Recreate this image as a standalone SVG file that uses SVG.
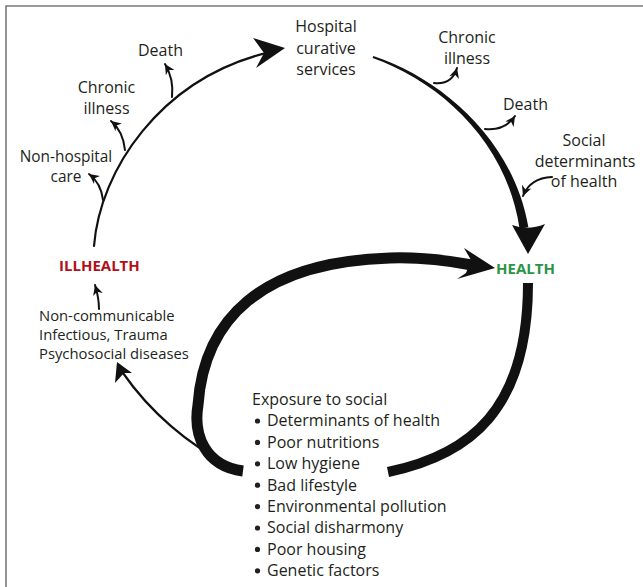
<svg xmlns="http://www.w3.org/2000/svg" width="643" height="587" viewBox="0 0 643 587">
<defs>
<marker id="barb" viewBox="-11 -6 12 12" markerWidth="12" markerHeight="12" refX="0" refY="0" orient="auto" markerUnits="userSpaceOnUse">
<path d="M0,0 L-10,-5 L-7,0 L-10,5 Z" fill="#111"/>
</marker>
</defs>
<style>
text{font-family:"Open Sans","Liberation Sans",sans-serif;font-size:16px;fill:#231f20}
.c{text-anchor:middle}
.sm{font-size:14.8px}
.thin{fill:none;stroke:#111;stroke-width:2.2;stroke-linecap:round}
.br{fill:none;stroke:#111;stroke-width:2;stroke-linecap:round;marker-end:url(#barb)}
.thick{fill:none;stroke:#111;stroke-linecap:butt}
.head{fill:#111}
.bold{font-weight:bold;font-size:15px}
</style>
<rect width="643" height="587" fill="#fff"/>
<path d="M6,587 L6,6 L643,6" fill="none" stroke="#7a7a7a" stroke-width="1.6"/>

<g id="connectors">
  <!-- ILLHEALTH to hospital -->
  <path class="thin" d="M94,246 C100,170 160,80 266,53"/>
  <path class="head" d="M285,48 L253,38 L264,53 L256,68 Z"/>
  <path class="br" d="M103,200 Q101,183 89,174"/>
  <path class="br" d="M125,150 Q123,131 111,121"/>
  <path class="br" d="M172,97 Q174,79 165,64"/>
  <!-- Hospital to HEALTH -->
  <path class="head" d="M373.3,56 C440.6,78.1 513.5,139.4 528.4,227.3 L519.6,228.7 C506.5,140.5 439.4,81.9 372.7,58 Z"/>
  <path class="head" d="M512,225 Q528,231 545,224 L528,254 Z"/>
  <path class="br" d="M434,83 Q452,85 457,68"/>
  <path class="br" d="M485,129 Q505,131 515,116"/>
  <path class="br" d="M552,177 Q530,178 523,196"/>
  <!-- Big loop to HEALTH -->
  <path class="thick" stroke-width="11" d="M243,471 C205,466 193,435 198,405 C204,320 260,262 390,258 C420,257 445,260 472,265"/>
  <path class="head" d="M495,268 L464,248 L471,260 L466,273 L457,279 Z"/>
  <!-- HEALTH down to exposure -->
  <path class="thick" stroke-width="10" d="M528,283 C528,410 470,455 388,472"/>
  <!-- exposure to diseases -->
  <path class="thin" stroke-width="2.4" d="M225,462 C190,446 150,412 123,373"/>
  <path class="head" d="M117,362 L132,373 L124,373 L115,383 Z"/>
  <!-- diseases to ILLHEALTH -->
  <path class="br" d="M99,309 Q99,298 95,285"/>
</g>

<g id="node-hospital">
  <text class="c" x="326" y="32">Hospital</text>
  <text class="c" x="326" y="53.5">curative</text>
  <text class="c" x="326" y="75">services</text>
</g>
<g id="node-death-left"><text class="c" x="160.5" y="56">Death</text></g>
<g id="node-chronic-left">
  <text class="c" x="106.5" y="93">Chronic</text>
  <text class="c" x="106.5" y="114">illness</text>
</g>
<g id="node-nonhospital">
  <text class="c" x="66" y="162" style="font-size:15.4px">Non-hospital</text>
  <text class="c" x="66" y="182" style="font-size:15.4px">care</text>
</g>
<g id="node-illhealth"><text class="bold" x="59" y="271" style="fill:#b01119">ILLHEALTH</text></g>
<g id="node-diseases">
  <text class="sm" x="39" y="321">Non-communicable</text>
  <text class="sm" x="39" y="340">Infectious, Trauma</text>
  <text class="sm" x="39" y="359">Psychosocial diseases</text>
</g>
<g id="node-chronic-right">
  <text class="c" x="467" y="43">Chronic</text>
  <text class="c" x="467" y="64">illness</text>
</g>
<g id="node-death-right"><text class="c" x="525.5" y="110">Death</text></g>
<g id="node-social">
  <text class="c" x="584" y="146">Social</text>
  <text class="c" x="585" y="167">determinants</text>
  <text class="c" x="584" y="187">of health</text>
</g>
<g id="node-health"><text class="bold" x="496" y="274" style="fill:#2a9446">HEALTH</text></g>
<g id="node-exposure">
  <text x="252" y="405">Exposure to social</text>
  <g fill="#231f20">
    <circle cx="257.5" cy="421" r="2.6"/>
    <circle cx="257.5" cy="442.4" r="2.6"/>
    <circle cx="257.5" cy="463.8" r="2.6"/>
    <circle cx="257.5" cy="485.2" r="2.6"/>
    <circle cx="257.5" cy="506.6" r="2.6"/>
    <circle cx="257.5" cy="528" r="2.6"/>
    <circle cx="257.5" cy="549.4" r="2.6"/>
    <circle cx="257.5" cy="570.8" r="2.6"/>
  </g>
  <text x="267" y="426.4">Determinants of health</text>
  <text x="267" y="447.8">Poor nutritions</text>
  <text x="267" y="469.2">Low hygiene</text>
  <text x="267" y="490.6">Bad lifestyle</text>
  <text x="267" y="512">Environmental pollution</text>
  <text x="267" y="533.4">Social disharmony</text>
  <text x="267" y="554.8">Poor housing</text>
  <text x="267" y="576.2">Genetic factors</text>
</g>
</svg>
